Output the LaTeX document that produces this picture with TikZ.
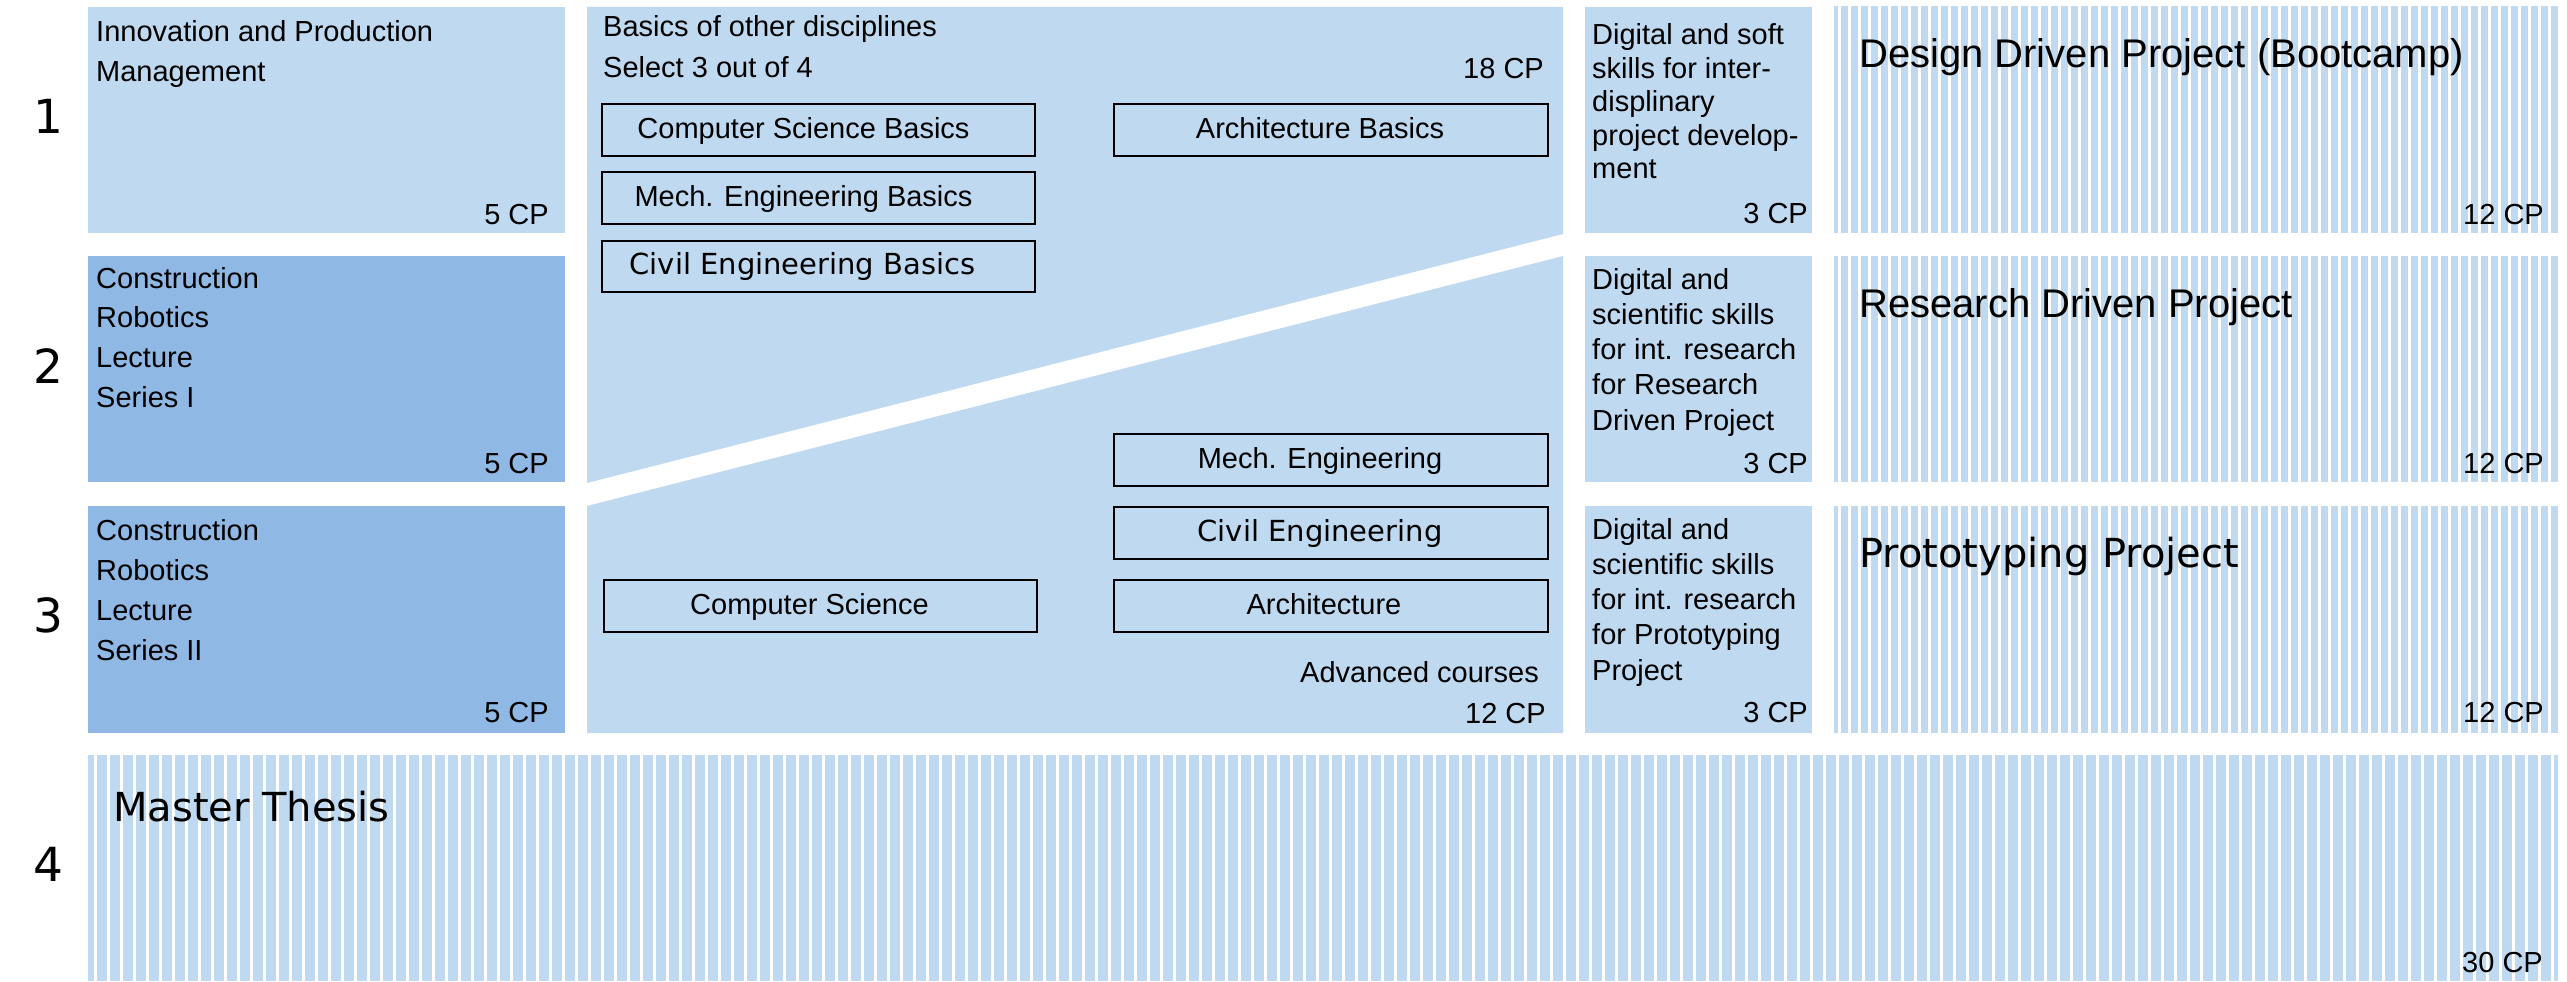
\documentclass[tikz,border=0pt]{standalone}
\usepackage{fontspec}
\setmainfont{Liberation Sans}
\newfontfamily\dv{DejaVu Sans}
\definecolor{lb}{HTML}{BFD9F0}
\definecolor{db}{HTML}{8FB9E4}
\newcommand\mlines[2]{\parbox[t]{400pt}{\fontsize{29}{#1}\selectfont\raggedright #2}}
\tikzset{
  box/.style={rectangle, inner sep=0pt, outer sep=0pt, anchor=north west},
  lbox/.style={box, fill=lb},
  dbox/.style={box, fill=db},
  sbox/.style n args={4}{box, path picture={\foreach \k in {0,...,#4}{\fill[lb] ([xshift=#3pt+\k*#1pt]path picture bounding box.south west) rectangle ++(#2pt,300pt);}}},
  course/.style={box, draw=black, line width=2pt},
  ctext/.style={inner sep=0pt, anchor=base, font=\fontsize{29}{35}\selectfont},
  tl/.style={inner sep=0pt, anchor=base west, font=\fontsize{29}{35}\selectfont},
  tr/.style={inner sep=0pt, anchor=base east, font=\fontsize{29}{35}\selectfont},
  big/.style={inner sep=0pt, anchor=base west, font=\fontsize{40}{48}\selectfont},
  rownum/.style={inner sep=0pt, anchor=center, font=\dv\fontsize{47}{50}\selectfont},
}
\begin{document}
\begin{tikzpicture}[x=1pt,y=-1pt]
\useasboundingbox (0,0) rectangle (2567,982);

% row numbers
\node[rownum] (n1) at (48,116) {1};
\node[rownum] (n2) at (48,366) {2};
\node[rownum] (n3) at (48,615) {3};
\node[rownum] (n4) at (48,864) {4};

% column A
\node[lbox, minimum width=477pt, minimum height=226pt] (a1) at (88,7) {};
\node[dbox, minimum width=477pt, minimum height=226pt] (a2) at (88,256) {};
\node[dbox, minimum width=477pt, minimum height=227pt] (a3) at (88,506) {};
\node[tl] (a1t) at (96,42) {\mlines{39.3}{Innovation and Production\\Management}};
\node[tl] (a2t) at (96,288) {\mlines{39.7}{Construction\\Robotics\\Lecture\\Series I}};
\node[tl] (a3t) at (96,540) {\mlines{40}{Construction\\Robotics\\Lecture\\Series II}};
\node[tr] (a1cp) at (549,224) {5 CP};
\node[tr] (a2cp) at (549,473) {5 CP};
\node[tr] (a3cp) at (549,722) {5 CP};

% column B (split diagonally)
\fill[lb] (587,7) coordinate (b1) -- (1563,7) coordinate (b2) -- (1563,234) coordinate (b3) -- (587,483) coordinate (b4) -- cycle;
\fill[lb] (587,506) coordinate (b5) -- (1563,256) coordinate (b6) -- (1563,733) coordinate (b7) -- (587,733) coordinate (b8) -- cycle;
\node[tl] (bt) at (603,37) {\mlines{41}{Basics of other disciplines\\Select 3 out of 4}};
\node[tr] (bcp1) at (1544,78) {18 CP};

\node[course, minimum width=433pt, minimum height=52pt] (csb) at (602,104) {};
\node[course, minimum width=433pt, minimum height=52pt] (meb) at (602,172) {};
\node[course, minimum width=433pt, minimum height=51pt] (ceb) at (602,241) {};
\node[course, minimum width=434pt, minimum height=52pt] (arb) at (1114,104) {};
\node[course, minimum width=434pt, minimum height=52pt] (mea) at (1114,434) {};
\node[course, minimum width=434pt, minimum height=52pt] (cea) at (1114,507) {};
\node[course, minimum width=434pt, minimum height=52pt] (ara) at (1114,580) {};
\node[course, minimum width=433pt, minimum height=52pt] (csa) at (604,580) {};

\node[ctext] (csbt) at ([xshift=-15pt,yshift=-8pt]csb.center) {Computer Science Basics};
\node[ctext] (mebt) at ([xshift=-15pt,yshift=-8pt]meb.center) {Mech. Engineering Basics};
\node[ctext, font=\dv\fontsize{29}{35}\selectfont] (cebt) at ([xshift=-16pt,yshift=-8pt]ceb.center) {Civil Engineering Basics};
\node[ctext] (arbt) at ([xshift=-11pt,yshift=-8pt]arb.center) {Architecture Basics};
\node[ctext] (meat) at ([xshift=-11pt,yshift=-8pt]mea.center) {Mech. Engineering};
\node[ctext, font=\dv\fontsize{29}{35}\selectfont] (ceat) at ([xshift=-11pt,yshift=-8pt]cea.center) {Civil Engineering};
\node[ctext] (arat) at ([xshift=-7pt,yshift=-8pt]ara.center) {Architecture};
\node[ctext] (csat) at ([xshift=-11pt,yshift=-8pt]csa.center) {Computer Science};
\node[tr] (badv) at (1539,682) {Advanced courses};
\node[tr] (bcp2) at (1546,723) {12 CP};

% column C
\node[lbox, minimum width=227pt, minimum height=226pt] (c1) at (1585,7) {};
\node[lbox, minimum width=227pt, minimum height=226pt] (c2) at (1585,256) {};
\node[lbox, minimum width=227pt, minimum height=227pt] (c3) at (1585,506) {};
\node[tl] (c1t) at (1592,45) {\mlines{33.5}{Digital and soft\\skills for inter-\\displinary\\project develop-\\ment}};
\node[tl] (c2t) at (1592,289) {\mlines{35.3}{Digital and\\scientific skills\\for int. research\\for Research\\Driven Project}};
\node[tl] (c3t) at (1592,539) {\mlines{35.3}{Digital and\\scientific skills\\for int. research\\for Prototyping\\Project}};
\node[tr] (c1cp) at (1808,223) {3 CP};
\node[tr] (c2cp) at (1808,473) {3 CP};
\node[tr] (c3cp) at (1808,722) {3 CP};

% column D (projects)
\node[sbox={10}{7}{-3}{73}, minimum width=724pt, minimum height=226pt] (d1) at (1834,7) {};
\node[sbox={10}{7}{-3}{73}, minimum width=724pt, minimum height=226pt] (d2) at (1834,256) {};
\node[sbox={10}{7}{-3}{73}, minimum width=724pt, minimum height=227pt] (d3) at (1834,506) {};
\node[big] (d1t) at (1859,67) {Design Driven Project (Bootcamp)};
\node[big] (d2t) at (1859,317) {Research Driven Project};
\node[big, font=\dv\fontsize{40}{48}\selectfont] (d3t) at (1859,567) {Prototyping Project};
\node[tr] (d1cp) at (2544,224) {12 CP};
\node[tr] (d2cp) at (2544,473) {12 CP};
\node[tr] (d3cp) at (2544,722) {12 CP};

% thesis
\node[sbox={13}{10}{-4}{191}, minimum width=2470pt, minimum height=226pt] (th) at (88,755) {};
\node[big, font=\dv\fontsize{40}{48}\selectfont] (tht) at (113,821) {Master Thesis};
\node[tr] (thcp) at (2543,972) {30 CP};
\end{tikzpicture}
\end{document}
